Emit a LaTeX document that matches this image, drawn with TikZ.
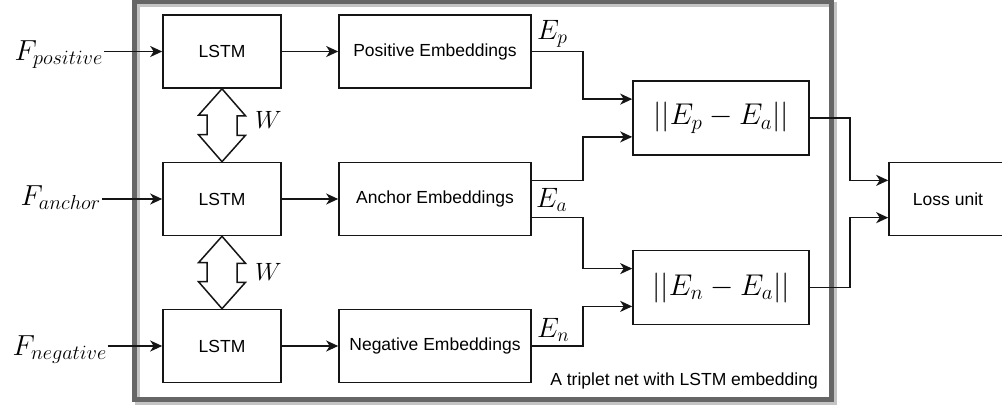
\documentclass[tikz,border=0pt]{standalone}
\usepackage{fix-cm}
\usepackage{fontspec}
\newfontfamily\lsans{Liberation Sans}
\usetikzlibrary{arrows.meta,calc}
\definecolor{framegray}{HTML}{666666}
\definecolor{shadowgray}{HTML}{C4C4C4}
\definecolor{ink}{HTML}{151515}
\begin{document}
\begin{tikzpicture}[x=1pt,y=-1pt,
  box/.style={draw=ink, line width=1.6pt, minimum height=73pt, inner sep=0pt,
    font=\lsans\fontsize{17.5}{21}\selectfont, fill=white},
  mbox/.style={box, minimum width=176pt, minimum height=74pt, font=\fontsize{30}{36}\selectfont},
  flbl/.style={inner sep=1pt, font=\fontsize{29}{34}\selectfont},
  elbl/.style={inner sep=0pt, font=\fontsize{28}{33}\selectfont},
  wlbl/.style={inner sep=0pt, font=\fontsize{25}{30}\selectfont},
  caption/.style={inner sep=0pt, font=\lsans\fontsize{17.5}{21}\selectfont},
  arr/.style={draw=ink, line width=1.5pt, -{Stealth[length=12pt,width=11pt,inset=3.5pt]}},
  dbl/.style={draw=ink, line width=1.5pt, fill=white, line join=miter}]
\useasboundingbox (0,0) rectangle (1002,407);
% container frame with shadow
\draw[shadowgray, line width=5pt] (137,4.5) rectangle (834,402.5);
\draw[framegray, line width=5pt] (134,1.5) rectangle (831,399.5);
% nodes
\node[box, minimum width=118pt] (l1) at (222,51.5) {LSTM};
\node[box, minimum width=118pt] (l2) at (222,199) {LSTM};
\node[box, minimum width=118pt] (l3) at (222,346) {LSTM};
\node[box, minimum width=192pt] (e1) at (435,51.5) {Positive Embeddings};
\node[box, minimum width=192pt] (e2) at (435,199) {Anchor Embeddings};
\node[box, minimum width=192pt] (e3) at (435,346) {Negative Embeddings};
\node[mbox] (d1) at (721,118) {$||E_p-E_a||$};
\node[mbox] (d2) at (721,287.5) {$||E_n-E_a||$};
\node[box, minimum width=118pt] (loss) at (948,199) {Loss unit};
% labels
\node[flbl, anchor=base east] (fp) at (104,60) {$F_{positive}$};
\node[flbl, anchor=base east] (fa) at (102,205) {$F_{anchor}$};
\node[flbl, anchor=base east] (fn) at (108,355) {$F_{negative}$};
\node[elbl, anchor=base west] (lep) at (537,39) {$E_p$};
\node[elbl, anchor=base west] (lea) at (536,207) {$E_a$};
\node[elbl, anchor=base west] (len) at (537,337) {$E_n$};
\node[wlbl, anchor=base west] (w1) at (255,128) {$W$};
\node[wlbl, anchor=base west] (w2) at (255,280) {$W$};
\node[caption, anchor=base east] (cap) at (818,385) {A triplet net with LSTM embedding};
% double arrows (shared weights)
\draw[dbl] (l1.south) -- ++(23.5,27) -- ++(-8.5,0) -- ++(0,19.5) -- ++(8.5,0) -- (l2.north)
  -- ++(-23.5,-27) -- ++(8.5,0) -- ++(0,-19.5) -- ++(-8.5,0) -- cycle;
\draw[dbl] (l2.south) -- ++(23.5,27) -- ++(-8.5,0) -- ++(0,19) -- ++(8.5,0) -- (l3.north)
  -- ++(-23.5,-27) -- ++(8.5,0) -- ++(0,-19) -- ++(-8.5,0) -- cycle;
% inputs
\draw[arr] (l1.west -| fp.east) -- (l1.west);
\draw[arr] (l2.west -| fa.east) -- (l2.west);
\draw[arr] (l3.west -| fn.east) -- (l3.west);
% lstm -> embeddings
\draw[arr] (l1) -- (e1);
\draw[arr] (l2) -- (e2);
\draw[arr] (l3) -- (e3);
% embeddings -> distances
\draw[arr] (e1.east) -- ++(51,0) |- ($(d1.north west)!0.25!(d1.south west)$);
\draw[arr] ($(e2.north east)!0.25!(e2.south east)$) -- ++(51,0) |- ($(d1.north west)!0.75!(d1.south west)$);
\draw[arr] ($(e2.north east)!0.75!(e2.south east)$) -- ++(51,0) |- ($(d2.north west)!0.25!(d2.south west)$);
\draw[arr] (e3.east) -- ++(51,0) |- ($(d2.north west)!0.75!(d2.south west)$);
% distances -> loss
\draw[arr] (d1.east) -- ++(40,0) |- ($(loss.north west)!0.25!(loss.south west)$);
\draw[arr] (d2.east) -- ++(40,0) |- ($(loss.north west)!0.75!(loss.south west)$);
\end{tikzpicture}
\end{document}
